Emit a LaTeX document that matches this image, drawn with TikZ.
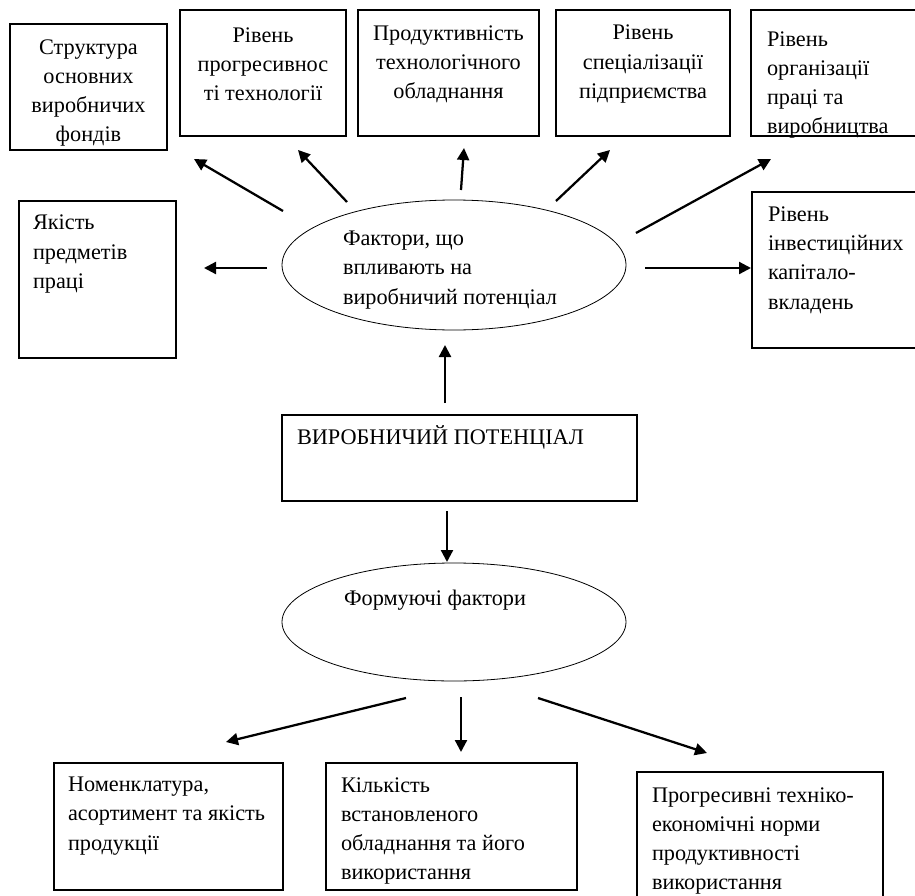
\documentclass[tikz,border=0pt]{standalone}
\usepackage{fontspec}
\setmainfont{Liberation Serif}
\usetikzlibrary{shapes.geometric,arrows.meta}
\tikzset{
  box/.style={draw, line width=0.8pt, rectangle, inner sep=0pt, outer sep=0pt},
  ell/.style={draw, line width=0.6pt, ellipse, inner sep=0pt, outer sep=0pt},
  txt/.style={inner sep=0pt, outer sep=0pt, font=\fontsize{16.7}{21.9}\selectfont},
  txtc/.style={txt, align=center},
  txtl/.style={txt, align=left, anchor=west},
  arr/.style={line width=1.7pt, -{Triangle[length=9pt,width=9pt]}}
}
\begin{document}
\begin{tikzpicture}[x=0.75pt,y=-0.75pt]
\useasboundingbox (0,0) rectangle (915,896);
\fill[white] (0,0) rectangle (915,896);
\clip (0,0) rectangle (915,896);
% top boxes
\node[box, minimum width=117.75pt, minimum height=94.5pt] (b1) at (88.5,87) {};
\node[txtc] (t1) at (88.5,93) {Структура\\основних\\виробничих\\фондів};
\node[box, minimum width=124.5pt, minimum height=94.5pt] (b2) at (263,73) {};
\node[txtc] (t2) at (263,64) {Рівень\\прогресивнос\\ті технології};
\node[box, minimum width=135.75pt, minimum height=94.5pt] (b3) at (448.5,73) {};
\node[txtc] (t3) at (448.5,64) {Продуктивність\\технологічного\\обладнання};
\node[box, minimum width=130.5pt, minimum height=94.5pt] (b4) at (643,73) {};
\node[txtc] (t4) at (643,64) {Рівень\\спеціалізації\\підприємства};
\node[box, minimum width=130.5pt, minimum height=94.5pt] (b5) at (838,73) {};
\node[txtl] (t5) at (767,85) {Рівень\\організації\\праці та\\виробництва};
% side boxes
\node[box, minimum width=117.75pt, minimum height=117.75pt] (b6) at (97.5,279.5) {};
\node[txtl] (t6) at (33,254) {Якість\\предметів\\праці};
\node[box, minimum width=129.75pt, minimum height=117pt] (b7) at (838.5,270) {};
\node[txtl] (t7) at (768,260) {Рівень\\інвестиційних\\капітало-\\вкладень};
% ellipse 1
\node[ell, minimum width=258pt, minimum height=97.5pt] (e1) at (454,265) {};
\node[txtl] (te1) at (343,270) {Фактори, що\\впливають на\\виробничий потенціал};
% central box
\node[box, minimum width=266.25pt, minimum height=64.5pt] (vp) at (459.5,458) {};
\node[txtl] (tvp) at (297,437) {ВИРОБНИЧИЙ ПОТЕНЦІАЛ};
% ellipse 2
\node[ell, minimum width=258pt, minimum height=88.5pt] (e2) at (454,622) {};
\node[txtc] (te2) at (435,600) {Формуючі фактори};
% bottom boxes
\node[box, minimum width=171.75pt, minimum height=95.25pt] (b8) at (168.5,826.5) {};
\node[txtl] (t8) at (68,816) {Номенклатура,\\асортимент та якість\\продукції};
\node[box, minimum width=188.25pt, minimum height=95.25pt] (b9) at (451.5,826.5) {};
\node[txtl] (t9) at (341,831) {Кількість\\встановленого\\обладнання та його\\використання};
\node[box, minimum width=184.5pt, minimum height=103.5pt] (b10) at (760,841) {};
\node[txtl] (t10) at (652,841) {Прогресивні техніко-\\економічні норми\\продуктивності\\використання};
% arrow end points
\coordinate (a1s) at (283,211); \coordinate (a1e) at (194,159);
\coordinate (a2s) at (347,202); \coordinate (a2e) at (298,150);
\coordinate (a3s) at (461,190); \coordinate (a3e) at (464,148);
\coordinate (a4s) at (556,201); \coordinate (a4e) at (610,150);
\coordinate (a5s) at (636,233); \coordinate (a5e) at (771,159);
\coordinate (a6s) at (267,268); \coordinate (a6e) at (204,268);
\coordinate (a7s) at (645,268); \coordinate (a7e) at (751,268);
\coordinate (a8s) at (445,403); \coordinate (a8e) at (445,345);
\coordinate (a9s) at (447,511); \coordinate (a9e) at (447,562);
\coordinate (a10s) at (406,698); \coordinate (a10e) at (226,742);
\coordinate (a11s) at (461,697); \coordinate (a11e) at (461,752);
\coordinate (a12s) at (538,698); \coordinate (a12e) at (707,753);
\foreach \i in {1,...,12} { \draw[arr] (a\i s) -- (a\i e); }
\end{tikzpicture}
\end{document}
